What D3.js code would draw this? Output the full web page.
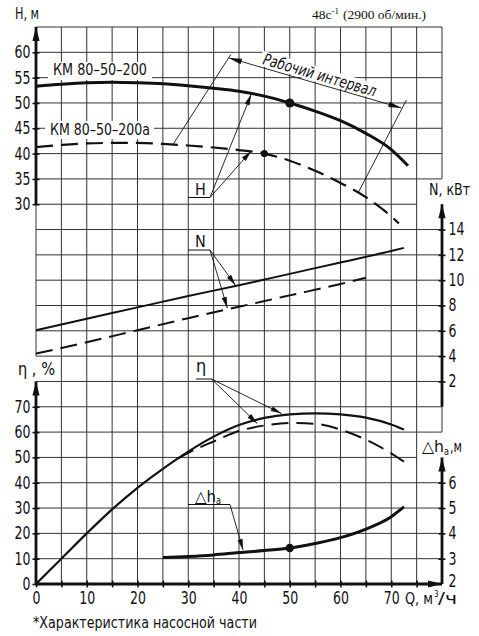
<!DOCTYPE html>
<html>
<head>
<meta charset="utf-8">
<script src="https://cdn.jsdelivr.net/npm/d3@7"></script>
<style>
body{margin:0;background:#fff}
text{font-family:"DejaVu Sans Condensed","DejaVu Sans",sans-serif;font-stretch:condensed;fill:#111}
</style>
</head>
<body>
<svg></svg>
<script>
const qTicks = [0,10,20,30,40,50,60,70]
const hTicks = [30,35,40,45,50,55,60]
const nTicks = [2,4,6,8,10,12,14]
const etaTicks = [0,10,20,30,40,50,60,70]
const dhTicks = [2,3,4,5,6]

// напор H, м
const qH = [0,5,10,15,20,25,30,35,40,45,50,55,60,65,70,73.3]
const hFull = [53.3,53.7,54.0,54.1,54.0,53.8,53.4,52.9,52.3,51.35,50.0,48.4,46.5,44.0,40.8,37.6]
const qHa = [0,5,10,15,20,25,30,35,40,45,50,55,60,65,70,71.5]
const hCut = [41.3,41.7,42.0,42.1,42.1,41.9,41.6,41.2,40.7,40.0,38.6,36.6,34.2,31.4,27.6,26.2]
// мощность N, кВт
const qN = [0,10,20,30,40,50,60,70,72.5]
const nFull = [6.05,6.95,7.85,8.75,9.6,10.5,11.4,12.3,12.55]
const qNa = [0,10,20,30,40,50,60,65]
const nCut = [4.2,5.1,6.05,7.0,7.9,8.8,9.7,10.2]
// кпд, %
const qEta = [0,5,10,15,20,25,30,35,40,45,50,55,60,65,70,72.5]
const etaFull = [0,10,20,29.5,38,45.5,52.3,58.2,62.8,65.6,67.0,67.4,67.0,65.7,63.0,61.0]
const qEtaA = [28,30,35,40,45,50,55,60,65,70,72.5]
const etaCut = [49.6,51.8,56.3,60.4,62.6,63.6,63.3,61.0,57.0,51.6,48.3]
// допускаемый кавитационный запас, м
const qDh = [25,30,35,40,45,50,55,60,65,70,72.5]
const dh = [3.05,3.09,3.15,3.24,3.32,3.42,3.6,3.83,4.17,4.66,5.05]
// рабочие точки
const ptFull = [50, 50.0]
const ptCut = [45, 40.0]
const ptDh = [50, 3.42]

let width = 479
let height = 636
let svg = d3.select('svg').attr('width', width).attr('height', height)

// общая сетка: 22 клетки по вертикали
let x = d3.scaleLinear().domain([0, 80]).range([36, 442])
let row = d3.scaleLinear().domain([0, 22]).range([584, 27])
let yH = d3.scaleLinear().domain([30, 65]).range([row(15), row(22)])
let yN = d3.scaleLinear().domain([0, 14]).range([row(7), row(14)])
let yE = d3.scaleLinear().domain([0, 70]).range([row(0), row(7)])
let yD = d3.scaleLinear().domain([2, 7]).range([row(0), row(5)])

const ink = '#111'
function seg(x1, y1, x2, y2, w, c) {
    svg.append('line').attr('x1', x1).attr('y1', y1).attr('x2', x2).attr('y2', y2)
        .attr('stroke', c || '#333').attr('stroke-width', w || 1)
}

// сетка
d3.range(5, 80, 5).forEach(q => seg(x(q), row(0), x(q), row(22)))
seg(x(0), row(15), x(0), row(9))
seg(x(80), row(22), x(80), row(16))
seg(x(80), row(7), x(80), row(6))
d3.range(1, 23).forEach(k => {
    let right = (k == 15 || k == 5) ? x(75) : x(80)
    seg(x(0), row(k), right, row(k))
})

// подписи
function label(x0, y0, s, o) {
    o = o || {}
    let t = svg.append('text').attr('x', x0).attr('y', y0).attr('font-size', o.size || 16).text(s)
    if (o.len) t.attr('textLength', o.len).attr('lengthAdjust', 'spacingAndGlyphs')
    if (o.italic) t.attr('font-style', 'italic')
    return t
}
function whiteBox(x0, y0, w, h) {
    svg.append('rect').attr('x', x0).attr('y', y0).attr('width', w).attr('height', h).attr('fill', '#fff')
}

whiteBox(48, 62, 104, 18)
label(53, 75, 'КМ 80–50–200', {len: 94})
whiteBox(45, 121, 109, 18)
label(50, 135, 'КМ 80–50–200а', {len: 100})

// кривые
function curve(qs, vs, y, w, dash) {
    svg.append('path')
        .datum(qs.map((q, i) => [q, vs[i]]))
        .attr('fill', 'none')
        .attr('stroke', ink)
        .attr('stroke-width', w)
        .attr('stroke-dasharray', dash ? '17,8' : null)
        .attr('d', d3.line().x(d => x(d[0])).y(d => y(d[1])).curve(d3.curveMonotoneX))
}
curve(qH, hFull, yH, 3)
curve(qHa, hCut, yH, 2.2, true)
curve(qN, nFull, yN, 2)
curve(qNa, nCut, yN, 2, true)
curve(qEta, etaFull, yE, 2.2)
curve(qEtaA, etaCut, yE, 2, true)
curve(qDh, dh, yD, 3)

svg.append('circle').attr('cx', x(ptFull[0])).attr('cy', yH(ptFull[1])).attr('r', 4.5).attr('fill', ink)
svg.append('circle').attr('cx', x(ptCut[0])).attr('cy', yH(ptCut[1])).attr('r', 3.6).attr('fill', ink)
svg.append('circle').attr('cx', x(ptDh[0])).attr('cy', yD(ptDh[1])).attr('r', 4.2).attr('fill', ink)

// оси
function arrowHead(from, tip, len, hw) {
    let dx = tip[0] - from[0], dy = tip[1] - from[1], d = Math.hypot(dx, dy)
    let ux = dx / d, uy = dy / d
    let bx = tip[0] - ux * len, by = tip[1] - uy * len
    svg.append('path')
        .attr('d', 'M' + tip + 'L' + (bx - uy * hw) + ',' + (by + ux * hw) + 'L' + (bx + uy * hw) + ',' + (by - ux * hw) + 'Z')
        .attr('fill', ink)
}
function axisLine(x1, y1, x2, y2) {
    seg(x1, y1, x2, y2, 2.8, ink)
    arrowHead([x1, y1], [x2, y2], 14, 3.6)
}
axisLine(x(0), row(15), x(0), row(22))
axisLine(x(0), row(0), x(0), row(8))
axisLine(x(80), row(7), x(80), row(15))
axisLine(x(80), row(0), x(80), row(5))
axisLine(x(0), row(0), x(80), row(0))

function squeeze(g, k) {
    g.select('.domain').remove()
    g.attr('font-family', null).attr('font-size', 17)
    g.selectAll('.tick line').attr('stroke', ink).attr('stroke-width', 1.6)
    g.selectAll('.tick text').each(function () {
        let t = d3.select(this)
        let tx = +t.attr('x') || 0, ty = +t.attr('y') || 0
        t.attr('x', 0).attr('y', 0).attr('fill', ink)
            .attr('transform', 'translate(' + tx + ',' + ty + ') scale(' + k + ',1)')
    })
}
svg.append('g').attr('transform', 'translate(' + (x(0) + 3.5) + ',0)')
    .call(d3.axisLeft(yH).tickValues(hTicks).tickSize(7).tickPadding(2)).call(g => squeeze(g, 0.82))
svg.append('g').attr('transform', 'translate(' + (x(0) + 3.5) + ',0)')
    .call(d3.axisLeft(yE).tickValues(etaTicks).tickSize(7).tickPadding(2)).call(g => squeeze(g, 0.82))
svg.append('g').attr('transform', 'translate(' + (x(80) - 3.5) + ',0)')
    .call(d3.axisRight(yN).tickValues(nTicks).tickSize(7).tickPadding(3)).call(g => squeeze(g, 0.82))
let dhAxis = svg.append('g').attr('transform', 'translate(' + (x(80) - 3.5) + ',0)')
    .call(d3.axisRight(yD).tickValues(dhTicks).tickSize(7).tickPadding(3).tickFormat(d3.format('d')))
    .call(g => squeeze(g, 0.82))
// нижняя «2» чуть выше, как в оригинале
dhAxis.selectAll('.tick').filter(d => d == 2).call(t => {
    t.select('line').remove()
    t.select('text').attr('y', -3)
})
svg.append('g').attr('transform', 'translate(0,' + (row(0) - 3.5) + ')')
    .call(d3.axisBottom(x).tickValues(d3.range(0, 80, 5)).tickSize(7).tickPadding(4.5)
        .tickFormat(d => qTicks.includes(d) ? d : ''))
    .call(g => squeeze(g, 0.82))

// названия осей
label(15, 19, 'H, м', {len: 24})
label(429, 195, 'N, кВт', {len: 41})
label(18, 375, 'η , %', {len: 37, size: 17})
label(422, 452, '△h', {len: 22})
label(444, 455, 'а', {size: 10, len: 5})
label(450, 452, ',м', {len: 12})
label(405, 604, 'Q, м', {len: 28, size: 15})
label(434, 597, '3', {size: 8})
label(438, 604, '/ч', {len: 19, size: 15})

let head = svg.append('text').attr('x', 312).attr('y', 19)
    .style('font-family', '"Liberation Serif","DejaVu Serif",serif').style('font-stretch', 'normal')
    .attr('font-size', 13.5).text('48с')
head.append('tspan').attr('font-size', 9).attr('dy', -5).text('-1')
head.append('tspan').attr('dy', 5).attr('dx', 4).text('(2900 об/мин.)')

label(33, 628, '*Характеристика насосной части', {len: 224})

// выноски
function leader(base, tips) {
    svg.append('line').attr('x1', base[0]).attr('y1', base[2]).attr('x2', base[1]).attr('y2', base[2])
        .attr('stroke', ink).attr('stroke-width', 1)
    tips.forEach(t => {
        svg.append('line').attr('x1', base[1]).attr('y1', base[2]).attr('x2', t[0]).attr('y2', t[1])
            .attr('stroke', ink).attr('stroke-width', 0.9)
        arrowHead([base[1], base[2]], t, 11, 2.6)
    })
}
label(195, 195, 'H')
leader([188, 210, 197.5], [[x(42.4), yH(51.7)], [x(42.4), yH(40.5)]])
label(195, 247, 'N')
leader([188, 210, 250], [[x(39.3), yN(9.6)], [x(37.7), yN(7.8)]])
label(196, 372, 'η', {size: 18})
leader([196, 211.5, 379], [[x(48.4), yE(67.3)], [x(43.6), yE(63.4)]])
label(195, 502, '△h', {len: 21})
label(216, 504, 'а', {size: 10, len: 5})
leader([188, 230, 504.5], [[x(40.8), yD(3.34)]])

// рабочий интервал
let p1 = [x(38), yH(58.9)], p2 = [x(72), yH(49.0)]
let ang = Math.atan2(p2[1] - p1[1], p2[0] - p1[0]) * 180 / Math.PI
seg(x(27), yH(41.8), x(38.4), yH(59.6), 0.9, ink)
seg(x(63.5), yH(32.3), x(73), yH(50.6), 0.9, ink)
let work = svg.append('g').attr('transform', 'translate(262,64) rotate(' + ang + ')')
work.append('rect').attr('x', -3).attr('y', -13).attr('width', 123).attr('height', 15).attr('fill', '#fff')
work.append('text').attr('x', 0).attr('y', 0).attr('font-size', 16).attr('font-style', 'italic')
    .attr('textLength', 117).attr('lengthAdjust', 'spacingAndGlyphs').text('Рабочий интервал')
seg(p1[0], p1[1], p2[0], p2[1], 0.9, ink)
arrowHead(p2, p1, 13, 2.8)
arrowHead(p1, p2, 13, 2.8)
</script>
</body>
</html>
